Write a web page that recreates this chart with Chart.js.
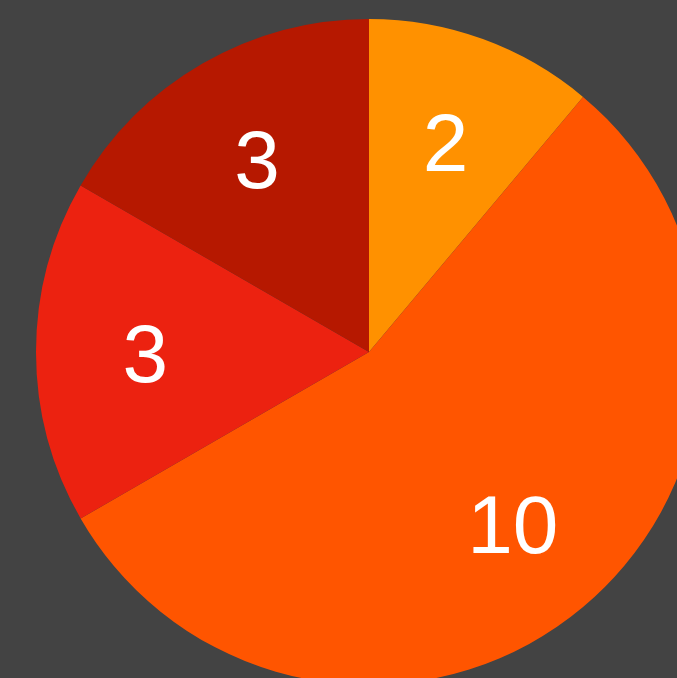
<!DOCTYPE html>
<html>
<head>
<meta charset="utf-8">
<script src="https://cdn.jsdelivr.net/npm/chart.js@4/dist/chart.umd.min.js"></script>
<style>
  html, body { margin:0; padding:0; background:#434343; overflow:hidden; width:677px; height:678px; }
  #wrap { position:absolute; left:0; top:0; width:738px; height:704px; }
</style>
</head>
<body>
<div id="wrap"><canvas id="chart" width="738" height="704"></canvas></div>
<script>
const labels = ['A', 'B', 'C', 'D'];
const values = [2, 10, 3, 3];
const colors = ['#FF9100', '#FF5500', '#EC2210', '#B61800'];

// draws the value inside each slice
const sliceLabels = {
  id: 'sliceLabels',
  afterDatasetsDraw(chart){
    const ctx = chart.ctx;
    const meta = chart.getDatasetMeta(0);
    const size = 82;
    ctx.save();
    ctx.fillStyle = '#ffffff';
    ctx.font = size + 'px "Liberation Sans", Arial, sans-serif';
    ctx.textAlign = 'center';
    ctx.textBaseline = 'alphabetic';
    meta.data.forEach((arc, i)=>{
      const p = arc.getProps(['x','y','startAngle','endAngle','outerRadius'], true);
      const mid = (p.startAngle + p.endAngle) / 2;
      const r = p.outerRadius * 0.672;
      // baseline offset so the digits sit centred on the point
      ctx.fillText(String(values[i]), p.x + Math.cos(mid)*r, p.y + Math.sin(mid)*r + size*0.36);
    });
    ctx.restore();
  }
};

new Chart(document.getElementById('chart'), {
  type: 'pie',
  data: { labels, datasets: [{ data: values, backgroundColor: colors, borderWidth: 0 }] },
  options: {
    responsive: false,
    animation: false,
    layout: { padding: 19 },
    plugins: { legend: { display: false }, tooltip: { enabled: false } }
  },
  plugins: [sliceLabels]
});
</script>
</body>
</html>
